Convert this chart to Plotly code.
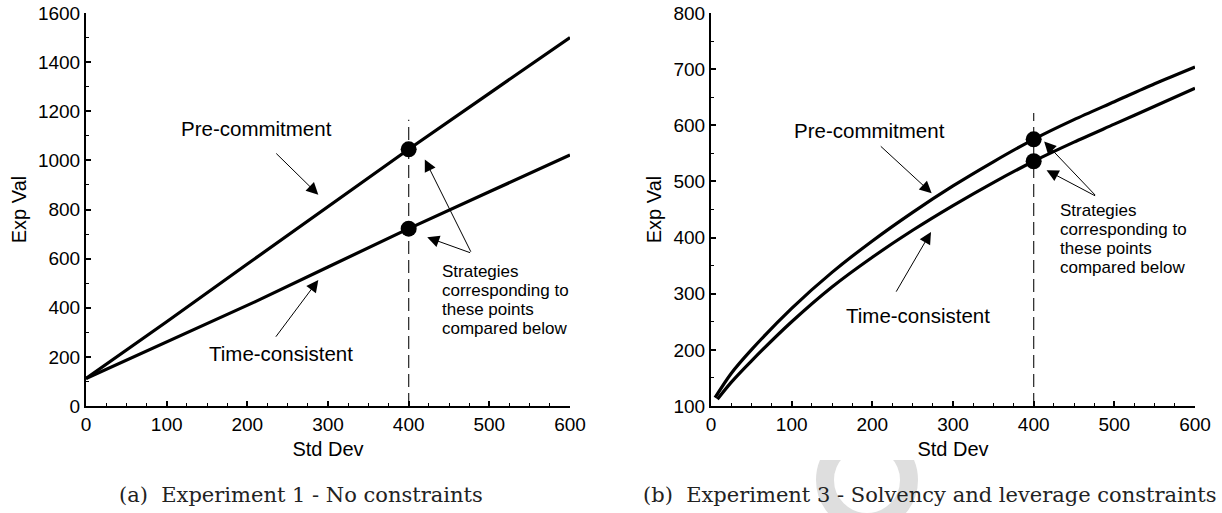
import plotly.graph_objects as go

# ---- Experiment 1: no constraints ----
std_dev_exp1 = [0, 100, 200, 300, 400, 500, 600]
precommit_exp1 = [112, 343, 578, 810, 1045, 1273, 1500]
std_dev_exp1_tc = [0, 100, 210, 300, 400, 500, 600]
timecons_exp1 = [112, 262, 425, 566, 722, 872, 1022]

# ---- Experiment 3: solvency and leverage constraints ----
std_dev_exp3_pc = [5, 25, 50, 100, 150, 200, 250, 300, 350, 400, 450, 500, 550, 600]
precommit_exp3 = [115, 158, 200, 274, 338, 394, 445, 492, 535, 575, 610, 642, 674, 704]
std_dev_exp3_tc = [8, 25, 50, 100, 150, 200, 250, 300, 350, 400, 450, 500, 550, 600]
timecons_exp3 = [112, 142, 180, 250, 312, 365, 413, 457, 498, 536, 570, 602, 634, 666]

compare_sd = 400
dash_top_exp1 = 1165
dash_top_exp3 = 622

label_pc = "Pre-commitment"
label_tc = "Time-consistent"
note_lines = ["Strategies", "corresponding to", "these points", "compared below"]
caption_a = "(a)  Experiment 1 - No constraints"
caption_b = "(b)  Experiment 3 - Solvency and leverage constraints"

W, H = 1222, 513
SANS = "Liberation Sans, Arial, Helvetica, sans-serif"
SERIF = "DejaVu Serif, Liberation Serif, serif"


def px(x):
    return x / W


def py(y):
    return 1 - y / H


def value_at(xs, ys, x):
    return ys[xs.index(x)]


fig = go.Figure()

line_style = dict(color="black", width=3.2)
dash_style = dict(color="#333333", width=1.3, dash="13px,6px")

# left panel
fig.add_trace(go.Scatter(x=[compare_sd, compare_sd], y=[0, dash_top_exp1], mode="lines",
                         line=dash_style, xaxis="x", yaxis="y", hoverinfo="skip"))
fig.add_trace(go.Scatter(x=std_dev_exp1, y=precommit_exp1, mode="lines", line=line_style,
                         xaxis="x", yaxis="y", name=label_pc))
fig.add_trace(go.Scatter(x=std_dev_exp1_tc, y=timecons_exp1, mode="lines", line=line_style,
                         xaxis="x", yaxis="y", name=label_tc))
fig.add_trace(go.Scatter(
    x=[compare_sd, compare_sd],
    y=[value_at(std_dev_exp1, precommit_exp1, compare_sd),
       value_at(std_dev_exp1_tc, timecons_exp1, compare_sd)],
    mode="markers", marker=dict(color="black", size=16), xaxis="x", yaxis="y"))

# right panel
fig.add_trace(go.Scatter(x=[compare_sd, compare_sd], y=[100, dash_top_exp3], mode="lines",
                         line=dash_style, xaxis="x2", yaxis="y2", hoverinfo="skip"))
fig.add_trace(go.Scatter(x=std_dev_exp3_pc, y=precommit_exp3, mode="lines",
                         line=dict(line_style, shape="spline", smoothing=0.8),
                         xaxis="x2", yaxis="y2", name=label_pc))
fig.add_trace(go.Scatter(x=std_dev_exp3_tc, y=timecons_exp3, mode="lines",
                         line=dict(line_style, shape="spline", smoothing=0.8),
                         xaxis="x2", yaxis="y2", name=label_tc))
fig.add_trace(go.Scatter(
    x=[compare_sd, compare_sd],
    y=[value_at(std_dev_exp3_pc, precommit_exp3, compare_sd),
       value_at(std_dev_exp3_tc, timecons_exp3, compare_sd)],
    mode="markers", marker=dict(color="black", size=16), xaxis="x2", yaxis="y2"))

tickfont = dict(family=SANS, size=19, color="black")
titlefont = dict(family=SANS, size=20, color="black")


def xaxis_cfg(domain):
    return dict(domain=domain, range=[0, 600], dtick=100, tick0=0, automargin=False,
                showline=True, linecolor="black", linewidth=2,
                ticks="inside", ticklen=5, tickwidth=1.5, tickcolor="black",
                minor=dict(ticks="inside", dtick=25, ticklen=3, tickwidth=1.2,
                           tickcolor="black", showgrid=False),
                showgrid=False, zeroline=False, tickfont=tickfont,
                title=dict(text="Std Dev", font=titlefont, standoff=8),
                fixedrange=True)


def yaxis_cfg(anchor, rng, dtick, minor_dtick):
    return dict(domain=[py(406), py(13)], anchor=anchor, range=rng, dtick=dtick, tick0=0,
                automargin=False,
                showline=True, linecolor="black", linewidth=2,
                ticks="inside", ticklen=5, tickwidth=1.5, tickcolor="black",
                minor=dict(ticks="inside", dtick=minor_dtick, ticklen=3, tickwidth=1.2,
                           tickcolor="black", showgrid=False),
                showgrid=False, zeroline=False, tickfont=tickfont,
                title=dict(text="Exp Val", font=titlefont, standoff=6),
                fixedrange=True)


fig.update_layout(
    width=W, height=H, margin=dict(l=0, r=0, t=0, b=0, autoexpand=False),
    paper_bgcolor="white", plot_bgcolor="white", showlegend=False,
    xaxis=dict(xaxis_cfg([px(86), px(570)]), anchor="y"),
    yaxis=yaxis_cfg("x", [0, 1600], 200, 100),
    xaxis2=dict(xaxis_cfg([px(711), px(1195)]), anchor="y2"),
    yaxis2=yaxis_cfg("x2", [100, 800], 100, 50),
)

annotations = []

# curve labels
for text, cx, cy in [(label_pc, 256, 128), (label_tc, 281, 353),
                     (label_pc, 869, 130), (label_tc, 918, 315)]:
    annotations.append(dict(text=text, x=px(cx), y=py(cy), xref="paper", yref="paper",
                            showarrow=False, xanchor="center", yanchor="middle",
                            font=dict(family=SANS, size=20.5, color="black")))

# explanatory note, one line at a time
for lines_left, top, in [(440, 271.7), (1058, 210)]:
    for i, line in enumerate(note_lines):
        annotations.append(dict(text=line, x=px(lines_left), y=py(top + 19 * i),
                                xref="paper", yref="paper", showarrow=False,
                                xanchor="left", yanchor="middle",
                                font=dict(family=SANS, size=17, color="black")))

# pointer arrows (tail -> head, data coordinates)
arrows = [
    ("x", "y", (234, 1034), (288, 860)),
    ("x", "y", (234, 276), (288, 513)),
    ("x", "y", (478, 622), (420, 1004)),
    ("x", "y", (478, 622), (423, 687)),
    ("x2", "y2", (208.6, 565), (273.6, 479)),
    ("x2", "y2", (228.5, 301), (272.7, 410)),
    ("x2", "y2", (478, 473), (413, 571)),
    ("x2", "y2", (478, 473), (416, 520)),
]
for xr, yr, (tx, ty), (hx, hy) in arrows:
    annotations.append(dict(text="", x=hx, y=hy, ax=tx, ay=ty, xref=xr, yref=yr,
                            axref=xr, ayref=yr, showarrow=True, arrowhead=2,
                            arrowsize=2.4, arrowwidth=1, arrowcolor="black", standoff=0))

# captions
for text, cx in [(caption_a, 301), (caption_b, 930)]:
    annotations.append(dict(text=text, x=px(cx), y=py(495), xref="paper", yref="paper",
                            showarrow=False, xanchor="center", yanchor="middle",
                            font=dict(family=SERIF, size=21, color="#222222")))

fig.update_layout(annotations=annotations)

# faint ring printed behind the right caption, hidden above the chart
fig.add_shape(type="circle", xref="paper", yref="paper", layer="below",
              x0=px(867 - 42), x1=px(867 + 42), y0=py(480 + 42), y1=py(480 - 42),
              line=dict(color="#dedede", width=18))
fig.add_shape(type="rect", xref="paper", yref="paper", layer="below",
              x0=px(780), x1=px(960), y0=py(460), y1=py(420),
              line=dict(width=0), fillcolor="white")

fig.write_html("out.html", post_script="document.body.style.margin='0';")
